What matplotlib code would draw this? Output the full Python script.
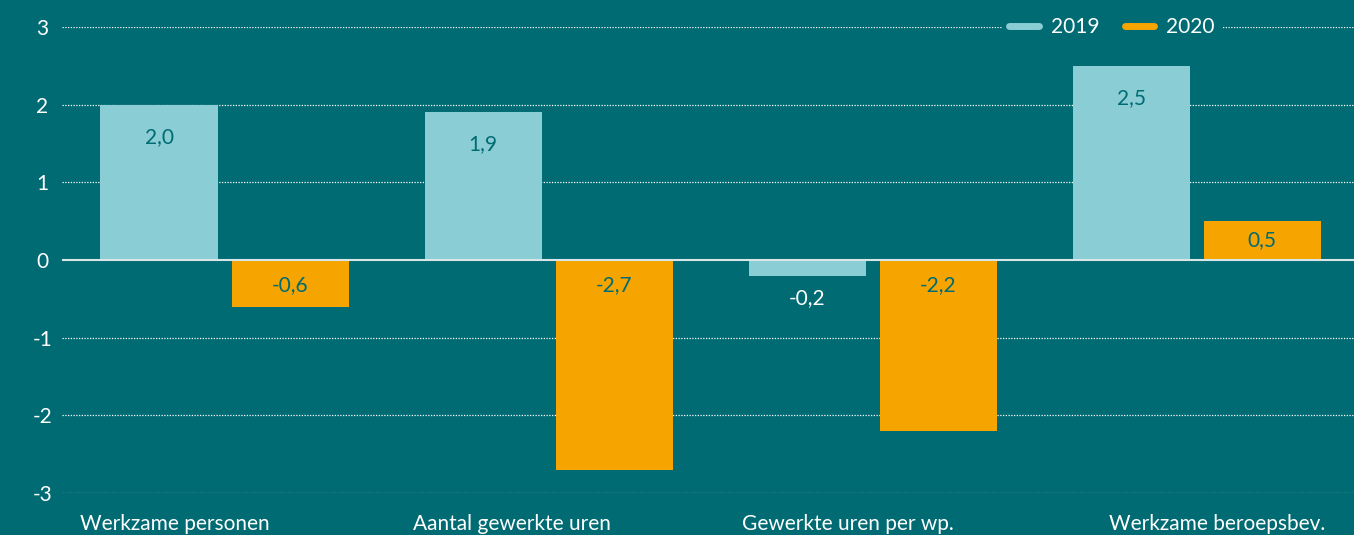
import matplotlib
matplotlib.use("Agg")
import matplotlib.pyplot as plt
from matplotlib.lines import Line2D
import numpy as np

categories = ["Werkzame personen", "Aantal gewerkte uren", "Gewerkte uren per wp.", "Werkzame beroepsbev."]
series_names = ["2019", "2020"]
values_2019 = [2.0, 1.9, -0.2, 2.5]
values_2020 = [-0.6, -2.7, -2.2, 0.5]
y_ticks = [-3, -2, -1, 0, 1, 2, 3]

BG = "#006b73"
C19 = "#8acdd4"
C20 = "#f5a400"

plt.rcParams['font.family'] = ['Lato', 'DejaVu Sans']

fig = plt.figure(figsize=(13.54, 5.35), dpi=100, facecolor=BG)
ax = fig.add_axes([62/1354, 1 - 493/535, 1 - 62/1354, (493 - 27)/535])
ax.set_facecolor(BG)

x = np.arange(len(categories))
w = 117/324
gap = 14/324
off = (w + gap) / 2

b19 = ax.bar(x - off, values_2019, width=w, color=C19, zorder=3)
b20 = ax.bar(x + off, values_2020, width=w, color=C20, zorder=3)

ax.set_ylim(-3, 3)
ax.set_xlim((62 - 224.5) / 324, (1354 - 224.5) / 324)
for t in [3, 2, 1, -1, -2, -3]:
    ax.axhline(t, color="white", lw=0.9, ls=(0, (1, 1.2)), zorder=1)
ax.axhline(0, color="#d8e6e8", lw=1.5, zorder=4)

def fmt(v):
    return f"{v:.1f}".replace(".", ",")

FS = 15

def label(bars, vals):
    for rect, v in zip(bars, vals):
        cx = rect.get_x() + rect.get_width() / 2
        h_px = abs(v) * 466 / 6
        if v > 0:
            if h_px > 55:
                ax.annotate(fmt(v), (cx, v), xytext=(0, -23), textcoords="offset points",
                            ha="center", va="center", color=BG, fontsize=FS, zorder=5)
            else:
                ax.annotate(fmt(v), (cx, v / 2), ha="center", va="center", color=BG, fontsize=FS, zorder=5)
        else:
            if h_px > 40:
                ax.annotate(fmt(v), (cx, 0), xytext=(0, -18), textcoords="offset points",
                            ha="center", va="center", color=BG, fontsize=FS, zorder=5)
            else:
                ax.annotate(fmt(v), (cx, v), xytext=(0, -16), textcoords="offset points",
                            ha="center", va="center", color="white", fontsize=FS, zorder=5)

label(b19, values_2019)
label(b20, values_2020)

ax.set_yticks(y_ticks)
ax.set_yticklabels([str(t) for t in y_ticks], color="white", fontsize=FS)
for lab in ax.get_yticklabels():
    lab.set_horizontalalignment("center")
ax.tick_params(axis="y", length=0, pad=14)

ax.set_xticks([])
label_offsets = [-49.5/324, -36.5/324, -24.5/324, 20.5/324]
for i, (c, o) in enumerate(zip(categories, label_offsets)):
    ax.text(i + o, -3.27, c, ha="center", va="top", color="white", fontsize=FS)

for s in ax.spines.values():
    s.set_visible(False)

handles = [Line2D([0], [0], color=C19, lw=5, solid_capstyle="round"),
           Line2D([0], [0], color=C20, lw=5, solid_capstyle="round")]
leg = ax.legend(handles, series_names, loc="center", bbox_to_anchor=((1112 - 62) / (1354 - 62), 1.0),
                ncol=2, frameon=True, facecolor=BG, edgecolor=BG, framealpha=1,
                fontsize=FS, handlelength=1.4, handletextpad=0.6, columnspacing=1.2,
                borderpad=0.3, fancybox=False)
for t in leg.get_texts():
    t.set_color("white")
leg.set_zorder(6)

fig.savefig("out.png", dpi=100, facecolor=BG)
